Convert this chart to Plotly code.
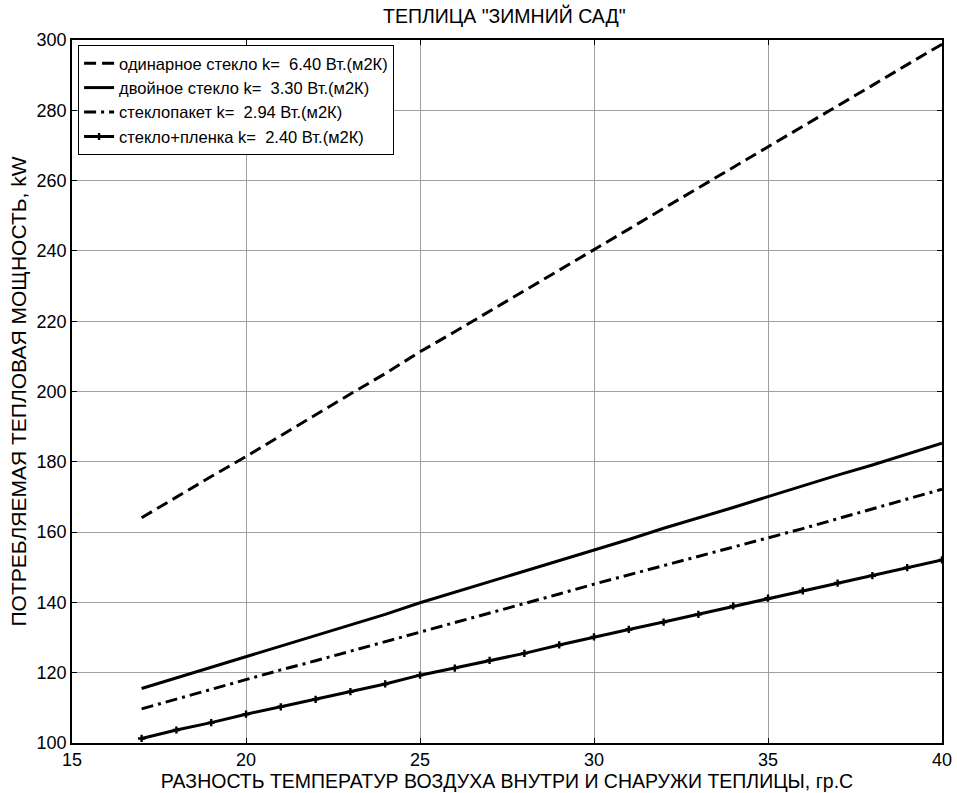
import plotly.graph_objects as go

x_vals = list(range(17, 41))

single_glass = [164.1, 170.0, 175.8, 181.5, 187.5, 193.4, 199.3, 205.1, 211.3, 217.0, 222.8, 228.7,
                234.5, 240.4, 246.2, 252.1, 257.9, 263.8, 269.7, 275.5, 281.3, 287.1, 293.0, 298.8]
double_glass = [115.5, 118.5, 121.5, 124.6, 127.5, 130.7, 133.7, 136.6, 139.9, 142.9, 145.8, 148.8,
                152.0, 154.9, 157.9, 161.1, 164.0, 167.0, 170.1, 173.2, 176.2, 179.1, 182.3, 185.3]
glass_unit = [109.7, 112.5, 115.3, 118.2, 120.8, 123.4, 126.1, 128.7, 131.4, 134.1, 136.9, 139.6,
              142.4, 145.2, 147.8, 150.4, 153.0, 155.6, 158.2, 161.0, 163.8, 166.6, 169.4, 172.2]
glass_film = [101.3, 103.7, 105.8, 108.2, 110.3, 112.4, 114.6, 116.8, 119.3, 121.3, 123.5, 125.5,
              127.9, 130.2, 132.3, 134.4, 136.6, 139.0, 141.2, 143.3, 145.5, 147.6, 149.9, 152.1]

names = [
    "одинарное стекло k=\u00a0 6.40 Вт.(м2К)",
    "двойное стекло k=\u00a0 3.30 Вт.(м2К)",
    "стеклопакет k=\u00a0 2.94 Вт.(м2К)",
    "стекло+пленка k=\u00a0 2.40 Вт.(м2К)",
]

x_ticks = [15, 20, 25, 30, 35, 40]
y_ticks = [100, 120, 140, 160, 180, 200, 220, 240, 260, 280, 300]

FONT = "Arial, Liberation Sans, sans-serif"

fig = go.Figure()
fig.add_trace(go.Scatter(x=x_vals, y=single_glass, mode="lines", name=names[0],
                         line=dict(color="black", width=3, dash="12px,6px")))
fig.add_trace(go.Scatter(x=x_vals, y=double_glass, mode="lines", name=names[1],
                         line=dict(color="black", width=3)))
fig.add_trace(go.Scatter(x=x_vals, y=glass_unit, mode="lines", name=names[2],
                         line=dict(color="black", width=3, dash="12px,5px,3px,5px")))
fig.add_trace(go.Scatter(x=x_vals, y=glass_film, mode="lines+markers", name=names[3],
                         line=dict(color="black", width=3),
                         marker=dict(symbol="cross", size=6, color="black")))

axis_common = dict(
    showgrid=True, gridcolor="#a0a0a0", gridwidth=1,
    showline=True, linecolor="black", linewidth=1.5, mirror="ticks",
    ticks="inside", ticklen=5, tickcolor="black",
    zeroline=False, automargin=False,
    tickfont=dict(family=FONT, size=18, color="black"),
)

fig.update_xaxes(range=[15, 40], tickvals=x_ticks,
                 title=dict(text="РАЗНОСТЬ ТЕМПЕРАТУР ВОЗДУХА ВНУТРИ И СНАРУЖИ ТЕПЛИЦЫ, гр.С",
                            font=dict(family=FONT, size=19.5, color="black"), standoff=0),
                 **axis_common)
fig.update_yaxes(range=[100, 300], tickvals=y_ticks,
                 title=dict(text="ПОТРЕБЛЯЕМАЯ ТЕПЛОВАЯ МОЩНОСТЬ, kW",
                            font=dict(family=FONT, size=21, color="black"), standoff=4),
                 **axis_common)

fig.update_layout(
    width=957, height=793,
    margin=dict(l=72, r=15, t=40, b=50),
    paper_bgcolor="white", plot_bgcolor="white",
    title=dict(text='ТЕПЛИЦА "ЗИМНИЙ САД"', x=0.527, xanchor="center",
               y=1 - 16 / 793, yanchor="middle",
               font=dict(family=FONT, size=19.5, color="black")),
    font=dict(family=FONT, color="black"),
    legend=dict(x=0.007, y=0.993, xanchor="left", yanchor="top",
                bgcolor="white", bordercolor="black", borderwidth=1,
                font=dict(family=FONT, size=16.5, color="black"),
                tracegroupgap=0, itemwidth=30),
    showlegend=True,
)

# remove the browser's default 8px page margin so the figure fills the window exactly
fig.write_html("out.html",
               config={"displayModeBar": False},
               post_script="document.body.style.margin='0';document.body.style.overflow='hidden';")
